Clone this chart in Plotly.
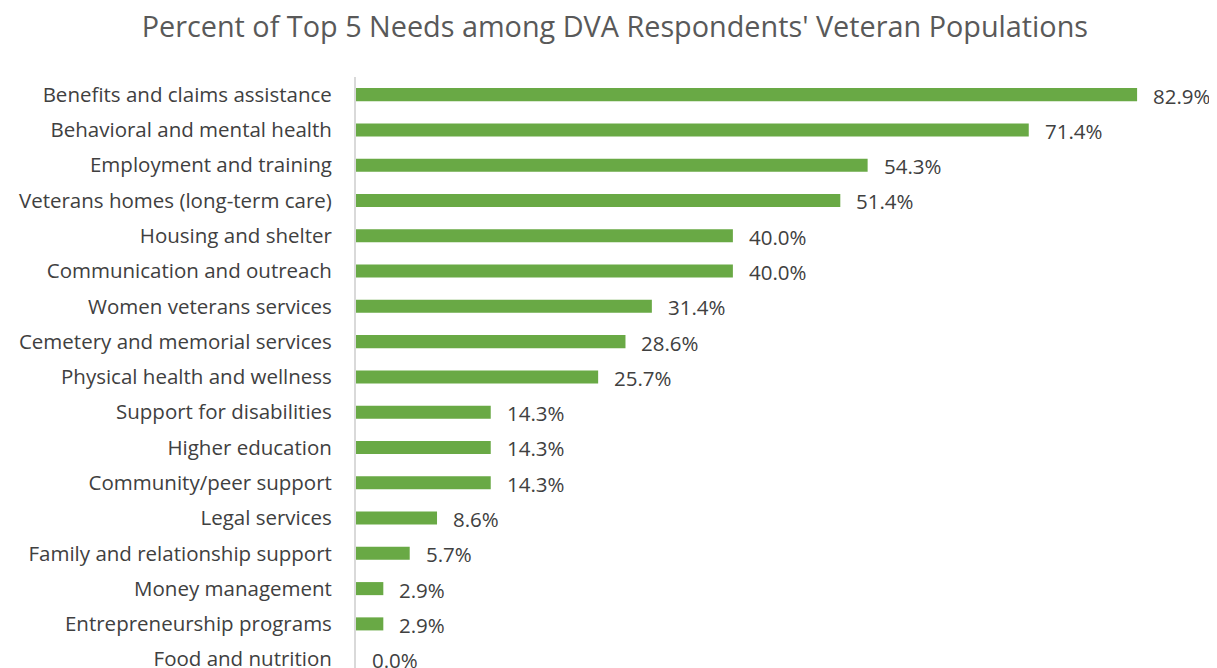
import plotly.graph_objects as go

categories = [
    "Benefits and claims assistance",
    "Behavioral and mental health",
    "Employment and training",
    "Veterans homes (long-term care)",
    "Housing and shelter",
    "Communication and outreach",
    "Women veterans services",
    "Cemetery and memorial services",
    "Physical health and wellness",
    "Support for disabilities",
    "Higher education",
    "Community/peer support",
    "Legal services",
    "Family and relationship support",
    "Money management",
    "Entrepreneurship programs",
    "Food and nutrition",
]
values = [82.9, 71.4, 54.3, 51.4, 40.0, 40.0, 31.4, 28.6, 25.7,
          14.3, 14.3, 14.3, 8.6, 5.7, 2.9, 2.9, 0.0]
title = "Percent of Top 5 Needs among DVA Respondents' Veteran Populations"

FONT = "Open Sans, Liberation Sans, sans-serif"
GREEN = "#69A945"
TEXT = "#404040"

fig = go.Figure(go.Bar(
    x=values, y=categories, orientation="h",
    marker=dict(color=GREEN, line=dict(width=0)),
    width=0.37, hoverinfo="skip",
))

for c, v in zip(categories, values):
    fig.add_annotation(x=v, y=c, text=f"{v:.1f}%", showarrow=False,
                       xanchor="left", yanchor="middle", xshift=14, yshift=-1,
                       font=dict(family=FONT, size=20.5, color=TEXT))

fig.update_layout(
    width=1209, height=660,
    margin=dict(l=348, r=13, t=69, b=0, autoexpand=False),
    paper_bgcolor="white", plot_bgcolor="white",
    showlegend=False,
    title=dict(text=title, x=0.502, xanchor="center", y=0.971, yanchor="middle",
               font=dict(family=FONT, size=28.8, color="#595959")),
    font=dict(family=FONT, color=TEXT),
    xaxis=dict(range=[0, 90], showgrid=False, zeroline=False, showticklabels=False,
               showline=False, fixedrange=True, automargin=False),
    yaxis=dict(range=[16.25, -0.5], showgrid=False, zeroline=False,
               showline=True, linecolor="#D9D9D9", linewidth=2,
               ticks="", ticklabelstandoff=18, automargin=False,
               tickfont=dict(family=FONT, size=20.5, color=TEXT)),
)

fig.write_html("out.html")
